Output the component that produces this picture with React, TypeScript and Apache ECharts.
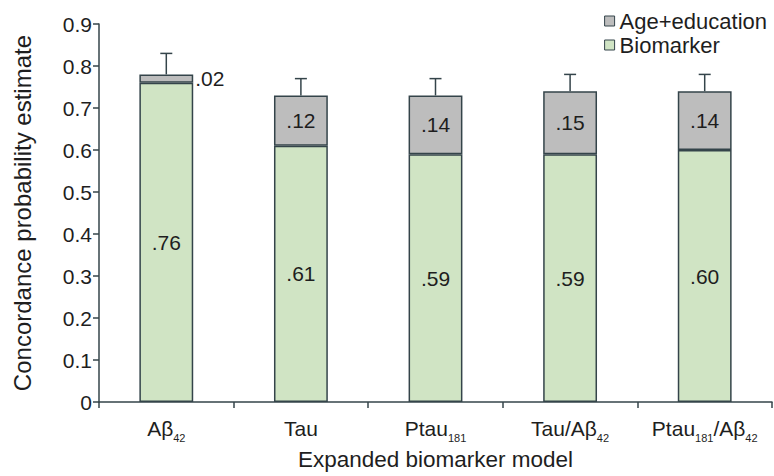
import React, { useEffect, useRef } from "react";
import * as echarts from "echarts";

const categories = ["A\u03b2{sub|42}", "Tau", "Ptau{sub|181}", "Tau/A\u03b2{sub|42}", "Ptau{sub|181}/A\u03b2{sub|42}"];
const biomarker = [0.76, 0.61, 0.59, 0.59, 0.6];
const ageEducation = [0.02, 0.12, 0.14, 0.15, 0.14];
const errorTop = [0.83, 0.77, 0.77, 0.78, 0.78];

const FONT = "Liberation Sans, Arial, sans-serif";
const TEXT = "#1e1e1e";
const BORDER = "#34444a";

const fmt = (v: number) => v.toFixed(2).replace(/^0/, "");

export default function App() {
  const ref = useRef<HTMLDivElement>(null);
  useEffect(() => {
    document.body.style.margin = "0";
    if (!ref.current) return;
    const chart = echarts.init(ref.current, undefined, { renderer: "svg" });
    const totals = biomarker.map((b, i) => b + ageEducation[i]);
    chart.setOption({
      animation: false,
      textStyle: { fontFamily: FONT },
      grid: { left: 99, right: 2, top: 24, bottom: 71 },
      legend: {
        orient: "vertical",
        right: 2,
        top: 5,
        itemWidth: 10,
        itemHeight: 10,
        itemGap: 2,
        itemStyle: { borderColor: BORDER, borderWidth: 1 },
        icon: "rect",
        data: ["Age+education", "Biomarker"],
        textStyle: { fontSize: 22, color: TEXT, fontFamily: FONT },
      },
      xAxis: {
        type: "category",
        data: categories,
        name: "Expanded biomarker model",
        nameLocation: "middle",
        nameGap: 41,
        nameTextStyle: { fontSize: 22.5, color: TEXT, fontFamily: FONT },
        axisLine: { lineStyle: { color: BORDER, width: 1.5 } },
        axisTick: { show: true, length: 6, lineStyle: { color: BORDER, width: 1.5 } },
        axisLabel: {
          interval: 0,
          color: TEXT,
          fontSize: 21,
          lineHeight: 30,
          margin: 11,
          fontFamily: FONT,
          rich: {
            sub: { fontSize: 11, verticalAlign: "bottom", lineHeight: 30, color: TEXT, fontFamily: FONT },
          },
        },
      },
      yAxis: {
        type: "value",
        min: 0,
        max: 0.9,
        interval: 0.1,
        name: "Concordance probability estimate",
        nameLocation: "middle",
        nameGap: 65,
        nameRotate: 90,
        nameTextStyle: { fontSize: 24, color: TEXT, fontFamily: FONT },
        axisLine: { show: true, lineStyle: { color: BORDER, width: 1.5 } },
        axisTick: { show: true, length: 6, lineStyle: { color: BORDER, width: 1.5 } },
        splitLine: { show: false },
        axisLabel: {
          color: TEXT,
          fontSize: 21,
          margin: 7,
          fontFamily: FONT,
          formatter: (v: number) => (v === 0 ? "0" : v.toFixed(1)),
        },
      },
      series: [
        {
          name: "Biomarker",
          type: "bar",
          stack: "total",
          barWidth: "40%",
          data: biomarker,
          itemStyle: { color: "#d0e4c4", borderColor: BORDER, borderWidth: 1.5 },
          label: {
            show: true,
            position: "inside",
            color: TEXT,
            fontSize: 21,
            fontFamily: FONT,
            formatter: (p: any) => fmt(p.value),
          },
        },
        {
          name: "Age+education",
          type: "bar",
          stack: "total",
          data: ageEducation.map((v, i) =>
            i === 0 ? { value: v, label: { position: "right", distance: 2 } } : { value: v }
          ),
          itemStyle: { color: "#bdbdbd", borderColor: BORDER, borderWidth: 1.5 },
          label: {
            show: true,
            position: "inside",
            color: TEXT,
            fontSize: 21,
            fontFamily: FONT,
            formatter: (p: any) => fmt(p.value),
          },
        },
        {
          name: "Error",
          type: "custom",
          z: 5,
          data: errorTop.map((e, i) => [i, totals[i], e]),
          encode: { x: 0, y: [1, 2] },
          renderItem: (params: any, api: any) => {
            const idx = api.value(0);
            const lo = api.coord([idx, api.value(1)]);
            const hi = api.coord([idx, api.value(2)]);
            const cap = 6;
            const style = { stroke: BORDER, lineWidth: 1.5 };
            return {
              type: "group",
              children: [
                { type: "line", shape: { x1: lo[0], y1: lo[1], x2: hi[0], y2: hi[1] }, style },
                { type: "line", shape: { x1: hi[0] - cap, y1: hi[1], x2: hi[0] + cap, y2: hi[1] }, style },
              ],
            };
          },
        },
      ],
    });
    return () => chart.dispose();
  }, []);
  return <div ref={ref} style={{ width: 774, height: 476 }} />;
}
